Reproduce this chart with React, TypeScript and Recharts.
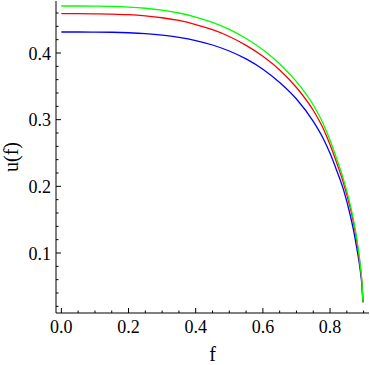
import React from 'react';
import { LineChart, Line, XAxis, YAxis } from 'recharts';

// sample positions along f
const fValues = [0, 0.05, 0.1, 0.15, 0.2, 0.25, 0.3, 0.35, 0.4, 0.45, 0.5, 0.55, 0.6, 0.65, 0.7, 0.75, 0.78, 0.8, 0.82, 0.84, 0.86, 0.87, 0.88, 0.89, 0.895, 0.898];
const greenU = [0.4705, 0.4705, 0.4703, 0.4699, 0.4689, 0.4671, 0.4642, 0.46, 0.4538, 0.4458, 0.4354, 0.4217, 0.405, 0.384, 0.357, 0.322, 0.2935, 0.269, 0.241, 0.2105, 0.1725, 0.1495, 0.12, 0.082, 0.056, 0.026];
const redU = [0.459, 0.459, 0.4588, 0.4584, 0.4575, 0.4557, 0.4529, 0.4488, 0.4427, 0.4349, 0.4248, 0.4114, 0.3951, 0.3746, 0.3483, 0.3141, 0.2863, 0.2624, 0.235, 0.205, 0.168, 0.1455, 0.1165, 0.0795, 0.0545, 0.026];
const blueU = [0.4315, 0.4315, 0.4314, 0.4311, 0.4304, 0.4291, 0.4269, 0.4235, 0.4187, 0.412, 0.403, 0.3911, 0.3757, 0.3558, 0.331, 0.2975, 0.2715, 0.2495, 0.2235, 0.195, 0.157, 0.134, 0.106, 0.074, 0.051, 0.026];

// tick marks (major ones get labels)
const xMajor = [0, 0.2, 0.4, 0.6, 0.8];
const xTicks = [0, 0.05, 0.1, 0.15, 0.2, 0.25, 0.3, 0.35, 0.4, 0.45, 0.5, 0.55, 0.6, 0.65, 0.7, 0.75, 0.8, 0.85, 0.9];
const yMajor = [0.1, 0.2, 0.3, 0.4];
const yTicks = [0.02, 0.04, 0.06, 0.08, 0.1, 0.12, 0.14, 0.16, 0.18, 0.2, 0.22, 0.24, 0.26, 0.28, 0.3, 0.32, 0.34, 0.36, 0.38, 0.4, 0.42, 0.44, 0.46];

const chartData = fValues.map((f, i) => ({ f, green: greenU[i], red: redU[i], blue: blueU[i] }));

const FONT = "'Liberation Serif', 'Times New Roman', 'DejaVu Serif', serif";
const textStyle = { fontFamily: FONT };

const isMajor = (v: number, majors: number[]) => majors.some(m => Math.abs(m - v) < 1e-6);

// inward frame ticks, longer for labelled values
const FrameTick = (props: any) => {
  const { x, y, payload, side } = props;
  const v = payload.value as number;
  const major = isMajor(v, side === 'bottom' || side === 'top' ? xMajor : yMajor);
  const len = major ? 5 : 2.5;
  let line;
  if (side === 'bottom') line = <line x1={x} y1={y} x2={x} y2={y - len} />;
  else if (side === 'top') line = <line x1={x} y1={y} x2={x} y2={y + len} />;
  else if (side === 'left') line = <line x1={x} y1={y} x2={x + len} y2={y} />;
  else line = <line x1={x} y1={y} x2={x - len} y2={y} />;
  return (
    <g>
      <g stroke="#000" strokeWidth={1}>{line}</g>
      {major && side === 'bottom' && (
        <text x={x} y={y + 20} textAnchor="middle" fontSize={18} style={textStyle} fill="#000">
          {v.toFixed(1)}
        </text>
      )}
      {major && side === 'left' && (
        <text x={x - 5} y={y + 6.5} textAnchor="end" fontSize={18} style={textStyle} fill="#000">
          {v.toFixed(1)}
        </text>
      )}
    </g>
  );
};

const YTitle = (props: any) => {
  const vb = props.viewBox || { x: 0, y: 1, width: 56, height: 312 };
  const cx = vb.x + 11;
  const cy = vb.y + vb.height / 2;
  return (
    <text x={cx} y={cy} transform={`rotate(-90 ${cx} ${cy})`} textAnchor="middle" dominantBaseline="central"
      fontSize={20} style={textStyle} fill="#000">
      u(f)
    </text>
  );
};

const XTitle = (props: any) => {
  const vb = props.viewBox || { x: 56, y: 313, width: 313, height: 52 };
  return (
    <text x={vb.x + vb.width / 2} y={vb.y + vb.height - 4} textAnchor="middle" fontSize={20} style={textStyle} fill="#000">
      f
    </text>
  );
};

const App: React.FC = () => {
  return (
    <div style={{ position: 'absolute', left: 0, top: 0, width: 370, height: 365, background: '#fff' }}>
      <LineChart width={370} height={365} data={chartData} margin={{ top: 1, right: 1, bottom: 0, left: 0 }}>
        <XAxis xAxisId="b" type="number" dataKey="f" domain={[-0.016, 0.916]} ticks={xTicks} interval={0}
          tickSize={0} tickMargin={0} tickLine={false} height={52} stroke="#000"
          tick={(p: any) => <FrameTick {...p} side="bottom" />} label={(p: any) => <XTitle {...p} />} />
        <XAxis xAxisId="t" orientation="top" type="number" dataKey="f" domain={[-0.016, 0.916]} ticks={xTicks}
          interval={0} tickSize={0} tickMargin={0} tickLine={false} height={0} stroke="#000"
          tick={(p: any) => <FrameTick {...p} side="top" />} />
        <YAxis yAxisId="l" type="number" domain={[0.01, 0.478]} ticks={yTicks} interval={0}
          tickSize={0} tickMargin={0} tickLine={false} width={56} stroke="#000"
          tick={(p: any) => <FrameTick {...p} side="left" />} label={(p: any) => <YTitle {...p} />} />
        <YAxis yAxisId="r" orientation="right" type="number" domain={[0.01, 0.478]} ticks={yTicks} interval={0}
          tickSize={0} tickMargin={0} tickLine={false} width={0} stroke="#000"
          tick={(p: any) => <FrameTick {...p} side="right" />} />
        <Line xAxisId="b" yAxisId="l" type="monotone" dataKey="blue" stroke="#0000ff" strokeWidth={1.3}
          dot={false} isAnimationActive={false} />
        <Line xAxisId="b" yAxisId="l" type="monotone" dataKey="red" stroke="#ff0000" strokeWidth={1.3}
          dot={false} isAnimationActive={false} />
        <Line xAxisId="b" yAxisId="l" type="monotone" dataKey="green" stroke="#00ff00" strokeWidth={1.3}
          dot={false} isAnimationActive={false} />
      </LineChart>
    </div>
  );
};

export default App;
